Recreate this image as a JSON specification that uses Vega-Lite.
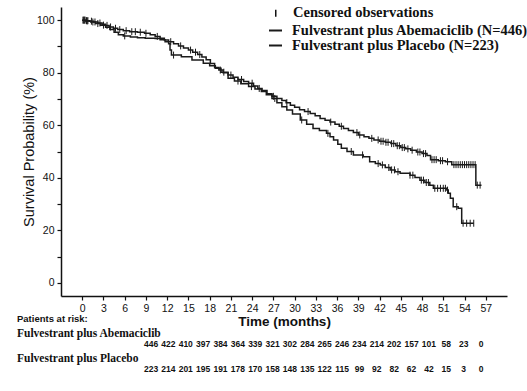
{
  "$schema": "https://vega.github.io/schema/vega-lite/v6.json",
  "width": 446,
  "height": 289,
  "autosize": {"type": "none"},
  "padding": {"left": 61, "top": 7, "right": 20, "bottom": 95},
  "background": "white",
  "config": {"view": {"stroke": null}, "font": "Liberation Sans", "axis": {"labelFlush": false}},
  "datasets": {
    "km": [
      {"arm":"Abemaciclib","month":0,"surv":100},{"arm":"Abemaciclib","month":0.5,"surv":99.8},{"arm":"Abemaciclib","month":1.0,"surv":99.6},{"arm":"Abemaciclib","month":1.6,"surv":99.3},{"arm":"Abemaciclib","month":2.2,"surv":98.9},{"arm":"Abemaciclib","month":2.8,"surv":98.4},{"arm":"Abemaciclib","month":3.3,"surv":98.0},{"arm":"Abemaciclib","month":3.8,"surv":97.4},{"arm":"Abemaciclib","month":4.4,"surv":96.9},{"arm":"Abemaciclib","month":5.0,"surv":96.4},{"arm":"Abemaciclib","month":5.8,"surv":96.0},{"arm":"Abemaciclib","month":6.7,"surv":95.6},{"arm":"Abemaciclib","month":7.8,"surv":95.4},{"arm":"Abemaciclib","month":8.8,"surv":95.0},{"arm":"Abemaciclib","month":9.6,"surv":94.4},{"arm":"Abemaciclib","month":10.3,"surv":93.8},{"arm":"Abemaciclib","month":11.0,"surv":93.1},{"arm":"Abemaciclib","month":11.6,"surv":92.4},{"arm":"Abemaciclib","month":12.2,"surv":91.8},{"arm":"Abemaciclib","month":12.9,"surv":91.0},{"arm":"Abemaciclib","month":13.6,"surv":90.2},{"arm":"Abemaciclib","month":14.3,"surv":89.4},{"arm":"Abemaciclib","month":15.0,"surv":88.6},{"arm":"Abemaciclib","month":15.6,"surv":87.8},{"arm":"Abemaciclib","month":16.3,"surv":86.9},{"arm":"Abemaciclib","month":16.9,"surv":86.0},{"arm":"Abemaciclib","month":17.5,"surv":84.9},{"arm":"Abemaciclib","month":18.1,"surv":83.5},{"arm":"Abemaciclib","month":18.7,"surv":82.0},{"arm":"Abemaciclib","month":19.3,"surv":81.0},{"arm":"Abemaciclib","month":19.9,"surv":80.0},{"arm":"Abemaciclib","month":20.6,"surv":79.1},{"arm":"Abemaciclib","month":21.3,"surv":78.3},{"arm":"Abemaciclib","month":22.0,"surv":77.4},{"arm":"Abemaciclib","month":22.8,"surv":76.6},{"arm":"Abemaciclib","month":23.5,"surv":76.0},{"arm":"Abemaciclib","month":24.2,"surv":74.9},{"arm":"Abemaciclib","month":24.8,"surv":74.0},{"arm":"Abemaciclib","month":25.4,"surv":73.2},{"arm":"Abemaciclib","month":26.1,"surv":72.0},{"arm":"Abemaciclib","month":26.8,"surv":71.0},{"arm":"Abemaciclib","month":27.5,"surv":70.2},{"arm":"Abemaciclib","month":28.2,"surv":69.4},{"arm":"Abemaciclib","month":28.8,"surv":68.6},{"arm":"Abemaciclib","month":29.4,"surv":67.6},{"arm":"Abemaciclib","month":30.0,"surv":66.8},{"arm":"Abemaciclib","month":30.7,"surv":65.9},{"arm":"Abemaciclib","month":31.4,"surv":65.2},{"arm":"Abemaciclib","month":32.2,"surv":64.5},{"arm":"Abemaciclib","month":32.9,"surv":63.6},{"arm":"Abemaciclib","month":33.6,"surv":62.6},{"arm":"Abemaciclib","month":34.3,"surv":61.9},{"arm":"Abemaciclib","month":35.0,"surv":61.2},{"arm":"Abemaciclib","month":35.7,"surv":60.4},{"arm":"Abemaciclib","month":36.3,"surv":59.6},{"arm":"Abemaciclib","month":36.9,"surv":58.8},{"arm":"Abemaciclib","month":37.6,"surv":58.0},{"arm":"Abemaciclib","month":38.3,"surv":57.2},{"arm":"Abemaciclib","month":39.0,"surv":56.3},{"arm":"Abemaciclib","month":39.8,"surv":55.6},{"arm":"Abemaciclib","month":40.5,"surv":55.0},{"arm":"Abemaciclib","month":41.2,"surv":54.4},{"arm":"Abemaciclib","month":42.0,"surv":53.9},{"arm":"Abemaciclib","month":42.8,"surv":53.5},{"arm":"Abemaciclib","month":43.6,"surv":53.0},{"arm":"Abemaciclib","month":44.3,"surv":52.2},{"arm":"Abemaciclib","month":45.0,"surv":51.5},{"arm":"Abemaciclib","month":45.7,"surv":51.0},{"arm":"Abemaciclib","month":46.4,"surv":50.5},{"arm":"Abemaciclib","month":47.2,"surv":49.8},{"arm":"Abemaciclib","month":48.0,"surv":49.2},{"arm":"Abemaciclib","month":48.7,"surv":48.5},{"arm":"Abemaciclib","month":49.2,"surv":46.9},{"arm":"Abemaciclib","month":50.3,"surv":46.5},{"arm":"Abemaciclib","month":51.3,"surv":46.1},{"arm":"Abemaciclib","month":52.2,"surv":45.0},{"arm":"Abemaciclib","month":55.6,"surv":37.2},{"arm":"Abemaciclib","month":56.4,"surv":37.2},
      {"arm":"Placebo","month":0,"surv":100},{"arm":"Placebo","month":0.5,"surv":99.7},{"arm":"Placebo","month":1.2,"surv":99.3},{"arm":"Placebo","month":1.9,"surv":98.7},{"arm":"Placebo","month":2.6,"surv":98.1},{"arm":"Placebo","month":3.3,"surv":97.3},{"arm":"Placebo","month":3.9,"surv":96.4},{"arm":"Placebo","month":4.5,"surv":95.4},{"arm":"Placebo","month":5.1,"surv":94.4},{"arm":"Placebo","month":5.8,"surv":94.0},{"arm":"Placebo","month":6.8,"surv":93.6},{"arm":"Placebo","month":7.8,"surv":93.3},{"arm":"Placebo","month":8.9,"surv":93.1},{"arm":"Placebo","month":10.3,"surv":93.0},{"arm":"Placebo","month":11.0,"surv":92.5},{"arm":"Placebo","month":11.7,"surv":91.8},{"arm":"Placebo","month":12.2,"surv":91.0},{"arm":"Placebo","month":12.4,"surv":88.6},{"arm":"Placebo","month":12.6,"surv":86.7},{"arm":"Placebo","month":14.0,"surv":86.1},{"arm":"Placebo","month":15.5,"surv":84.8},{"arm":"Placebo","month":17.1,"surv":83.6},{"arm":"Placebo","month":18.0,"surv":82.6},{"arm":"Placebo","month":18.8,"surv":81.7},{"arm":"Placebo","month":19.6,"surv":80.2},{"arm":"Placebo","month":20.6,"surv":77.9},{"arm":"Placebo","month":21.5,"surv":76.8},{"arm":"Placebo","month":22.4,"surv":75.8},{"arm":"Placebo","month":23.5,"surv":74.7},{"arm":"Placebo","month":24.4,"surv":73.8},{"arm":"Placebo","month":25.3,"surv":72.8},{"arm":"Placebo","month":26.0,"surv":71.6},{"arm":"Placebo","month":26.8,"surv":70.2},{"arm":"Placebo","month":27.5,"surv":68.6},{"arm":"Placebo","month":28.2,"surv":67.0},{"arm":"Placebo","month":28.9,"surv":65.8},{"arm":"Placebo","month":29.7,"surv":64.3},{"arm":"Placebo","month":30.8,"surv":62.0},{"arm":"Placebo","month":31.7,"surv":60.4},{"arm":"Placebo","month":32.6,"surv":58.8},{"arm":"Placebo","month":33.5,"surv":58.0},{"arm":"Placebo","month":34.5,"surv":56.9},{"arm":"Placebo","month":35.0,"surv":55.6},{"arm":"Placebo","month":35.5,"surv":54.4},{"arm":"Placebo","month":36.1,"surv":52.8},{"arm":"Placebo","month":36.6,"surv":51.2},{"arm":"Placebo","month":37.4,"surv":50.0},{"arm":"Placebo","month":38.3,"surv":48.7},{"arm":"Placebo","month":39.7,"surv":48.0},{"arm":"Placebo","month":40.6,"surv":46.1},{"arm":"Placebo","month":41.4,"surv":45.4},{"arm":"Placebo","month":42.1,"surv":44.9},{"arm":"Placebo","month":42.8,"surv":43.9},{"arm":"Placebo","month":43.5,"surv":43.0},{"arm":"Placebo","month":44.2,"surv":42.3},{"arm":"Placebo","month":44.9,"surv":41.7},{"arm":"Placebo","month":46.3,"surv":41.0},{"arm":"Placebo","month":47.0,"surv":40.1},{"arm":"Placebo","month":47.7,"surv":39.1},{"arm":"Placebo","month":48.4,"surv":38.2},{"arm":"Placebo","month":49.1,"surv":37.2},{"arm":"Placebo","month":49.6,"surv":36.0},{"arm":"Placebo","month":51.5,"surv":35.3},{"arm":"Placebo","month":51.7,"surv":34.1},{"arm":"Placebo","month":52.0,"surv":32.2},{"arm":"Placebo","month":52.4,"surv":29.0},{"arm":"Placebo","month":53.1,"surv":28.4},{"arm":"Placebo","month":53.6,"surv":22.7},{"arm":"Placebo","month":55.3,"surv":22.7}
    ],
    "cens": [
      {"arm":"Abemaciclib","month":0.2,"surv":100},{"arm":"Abemaciclib","month":0.4,"surv":100},{"arm":"Abemaciclib","month":0.6,"surv":99.8},{"arm":"Abemaciclib","month":0.8,"surv":99.8},{"arm":"Abemaciclib","month":1.3,"surv":99.6},{"arm":"Abemaciclib","month":1.8,"surv":99.3},{"arm":"Abemaciclib","month":2.5,"surv":98.9},{"arm":"Abemaciclib","month":3.5,"surv":98.0},{"arm":"Abemaciclib","month":4.0,"surv":97.4},{"arm":"Abemaciclib","month":4.7,"surv":96.9},{"arm":"Abemaciclib","month":5.3,"surv":96.4},{"arm":"Abemaciclib","month":6.2,"surv":96.0},{"arm":"Abemaciclib","month":7.0,"surv":95.6},{"arm":"Abemaciclib","month":7.5,"surv":95.6},{"arm":"Abemaciclib","month":8.2,"surv":95.4},{"arm":"Abemaciclib","month":9.0,"surv":95.0},{"arm":"Abemaciclib","month":10.6,"surv":93.8},{"arm":"Abemaciclib","month":12.5,"surv":91.8},{"arm":"Abemaciclib","month":13.9,"surv":90.2},{"arm":"Abemaciclib","month":15.3,"surv":88.6},{"arm":"Abemaciclib","month":16.0,"surv":87.8},{"arm":"Abemaciclib","month":16.6,"surv":86.9},{"arm":"Abemaciclib","month":19.5,"surv":81.0},{"arm":"Abemaciclib","month":21.0,"surv":79.1},{"arm":"Abemaciclib","month":22.5,"surv":77.4},{"arm":"Abemaciclib","month":24.0,"surv":76.0},{"arm":"Abemaciclib","month":25.0,"surv":74.0},{"arm":"Abemaciclib","month":27.0,"surv":71.0},{"arm":"Abemaciclib","month":28.9,"surv":68.6},{"arm":"Abemaciclib","month":31.9,"surv":65.2},{"arm":"Abemaciclib","month":35.1,"surv":61.2},{"arm":"Abemaciclib","month":36.6,"surv":59.6},{"arm":"Abemaciclib","month":38.8,"surv":57.2},{"arm":"Abemaciclib","month":39.2,"surv":56.3},{"arm":"Abemaciclib","month":40.9,"surv":55.0},{"arm":"Abemaciclib","month":41.8,"surv":54.4},{"arm":"Abemaciclib","month":42.2,"surv":53.9},{"arm":"Abemaciclib","month":42.5,"surv":53.9},{"arm":"Abemaciclib","month":42.9,"surv":53.5},{"arm":"Abemaciclib","month":43.2,"surv":53.5},{"arm":"Abemaciclib","month":43.7,"surv":53.0},{"arm":"Abemaciclib","month":44.0,"surv":53.0},{"arm":"Abemaciclib","month":44.5,"surv":52.2},{"arm":"Abemaciclib","month":44.8,"surv":52.2},{"arm":"Abemaciclib","month":45.2,"surv":51.5},{"arm":"Abemaciclib","month":45.5,"surv":51.5},{"arm":"Abemaciclib","month":46.0,"surv":51.0},{"arm":"Abemaciclib","month":46.6,"surv":50.5},{"arm":"Abemaciclib","month":47.4,"surv":49.8},{"arm":"Abemaciclib","month":47.7,"surv":49.8},{"arm":"Abemaciclib","month":48.2,"surv":49.2},{"arm":"Abemaciclib","month":48.5,"surv":49.2},{"arm":"Abemaciclib","month":49.4,"surv":46.9},{"arm":"Abemaciclib","month":49.7,"surv":46.9},{"arm":"Abemaciclib","month":50.0,"surv":46.9},{"arm":"Abemaciclib","month":50.6,"surv":46.5},{"arm":"Abemaciclib","month":50.9,"surv":46.5},{"arm":"Abemaciclib","month":51.6,"surv":46.1},{"arm":"Abemaciclib","month":52.5,"surv":45.0},{"arm":"Abemaciclib","month":52.8,"surv":45.0},{"arm":"Abemaciclib","month":53.1,"surv":45.0},{"arm":"Abemaciclib","month":53.4,"surv":45.0},{"arm":"Abemaciclib","month":53.7,"surv":45.0},{"arm":"Abemaciclib","month":54.0,"surv":45.0},{"arm":"Abemaciclib","month":54.3,"surv":45.0},{"arm":"Abemaciclib","month":54.6,"surv":45.0},{"arm":"Abemaciclib","month":54.9,"surv":45.0},{"arm":"Abemaciclib","month":55.2,"surv":45.0},{"arm":"Abemaciclib","month":55.5,"surv":45.0},{"arm":"Abemaciclib","month":55.8,"surv":37.2},{"arm":"Abemaciclib","month":56.2,"surv":37.2},
      {"arm":"Placebo","month":0.1,"surv":100},{"arm":"Placebo","month":0.3,"surv":100},{"arm":"Placebo","month":0.7,"surv":99.7},{"arm":"Placebo","month":1.5,"surv":99.3},{"arm":"Placebo","month":2.2,"surv":98.7},{"arm":"Placebo","month":3.0,"surv":98.1},{"arm":"Placebo","month":6.0,"surv":94.0},{"arm":"Placebo","month":12.9,"surv":86.7},{"arm":"Placebo","month":20.0,"surv":80.2},{"arm":"Placebo","month":22.0,"surv":76.8},{"arm":"Placebo","month":23.9,"surv":74.7},{"arm":"Placebo","month":27.2,"surv":70.2},{"arm":"Placebo","month":31.0,"surv":62.0},{"arm":"Placebo","month":34.7,"surv":56.9},{"arm":"Placebo","month":38.0,"surv":50.0},{"arm":"Placebo","month":39.6,"surv":48.7},{"arm":"Placebo","month":41.8,"surv":45.4},{"arm":"Placebo","month":42.4,"surv":44.9},{"arm":"Placebo","month":43.3,"surv":43.9},{"arm":"Placebo","month":43.7,"surv":43.0},{"arm":"Placebo","month":44.1,"surv":43.0},{"arm":"Placebo","month":44.6,"surv":42.3},{"arm":"Placebo","month":46.3,"surv":41.0},{"arm":"Placebo","month":46.7,"surv":41.0},{"arm":"Placebo","month":47.9,"surv":39.1},{"arm":"Placebo","month":48.2,"surv":39.1},{"arm":"Placebo","month":48.6,"surv":38.2},{"arm":"Placebo","month":48.9,"surv":38.2},{"arm":"Placebo","month":49.8,"surv":36.0},{"arm":"Placebo","month":50.2,"surv":36.0},{"arm":"Placebo","month":50.6,"surv":36.0},{"arm":"Placebo","month":51.0,"surv":36.0},{"arm":"Placebo","month":51.3,"surv":36.0},{"arm":"Placebo","month":51.6,"surv":35.3},{"arm":"Placebo","month":52.9,"surv":29.0},{"arm":"Placebo","month":53.8,"surv":22.7},{"arm":"Placebo","month":54.3,"surv":22.7},{"arm":"Placebo","month":54.8,"surv":22.7},{"arm":"Placebo","month":55.3,"surv":22.7}
    ],
    "risk": [
      {"row":"Abemaciclib at risk","month":0,"n":446},{"row":"Abemaciclib at risk","month":3,"n":422},{"row":"Abemaciclib at risk","month":6,"n":410},{"row":"Abemaciclib at risk","month":9,"n":397},{"row":"Abemaciclib at risk","month":12,"n":384},{"row":"Abemaciclib at risk","month":15,"n":364},{"row":"Abemaciclib at risk","month":18,"n":339},{"row":"Abemaciclib at risk","month":21,"n":321},{"row":"Abemaciclib at risk","month":24,"n":302},{"row":"Abemaciclib at risk","month":27,"n":284},{"row":"Abemaciclib at risk","month":30,"n":265},{"row":"Abemaciclib at risk","month":33,"n":246},{"row":"Abemaciclib at risk","month":36,"n":234},{"row":"Abemaciclib at risk","month":39,"n":214},{"row":"Abemaciclib at risk","month":42,"n":202},{"row":"Abemaciclib at risk","month":45,"n":157},{"row":"Abemaciclib at risk","month":48,"n":101},{"row":"Abemaciclib at risk","month":51,"n":58},{"row":"Abemaciclib at risk","month":54,"n":23},{"row":"Abemaciclib at risk","month":57,"n":0},
      {"row":"Placebo at risk","month":0,"n":223},{"row":"Placebo at risk","month":3,"n":214},{"row":"Placebo at risk","month":6,"n":201},{"row":"Placebo at risk","month":9,"n":195},{"row":"Placebo at risk","month":12,"n":191},{"row":"Placebo at risk","month":15,"n":178},{"row":"Placebo at risk","month":18,"n":170},{"row":"Placebo at risk","month":21,"n":158},{"row":"Placebo at risk","month":24,"n":148},{"row":"Placebo at risk","month":27,"n":135},{"row":"Placebo at risk","month":30,"n":122},{"row":"Placebo at risk","month":33,"n":115},{"row":"Placebo at risk","month":36,"n":99},{"row":"Placebo at risk","month":39,"n":92},{"row":"Placebo at risk","month":42,"n":82},{"row":"Placebo at risk","month":45,"n":62},{"row":"Placebo at risk","month":48,"n":42},{"row":"Placebo at risk","month":51,"n":15},{"row":"Placebo at risk","month":54,"n":3},{"row":"Placebo at risk","month":57,"n":0}
    ],
    "riskHeader": [{"row":"Patients at risk:"}],
    "riskArms": [{"row":"Fulvestrant plus Abemaciclib"},{"row":"Fulvestrant plus Placebo"}]
  },
  "layer": [
    {
      "layer": [
        {
          "data": {"name": "km"},
          "mark": {"type": "line", "interpolate": "step-after", "strokeWidth": 1.5},
          "encoding": {
            "x": {"field": "month", "type": "quantitative",
              "scale": {"domain": [-3, 60], "nice": false, "zero": false},
              "axis": {"values": [0,3,6,9,12,15,18,21,24,27,30,33,36,39,42,45,48,51,54,57], "tickCount": 30, "title": "Time (months)", "grid": false,
                "titleFont": "Liberation Sans", "titleFontSize": 13.5, "titleFontWeight": "bold", "titleColor": "#111",
                "labelFont": "Liberation Sans", "labelFontSize": 10.5, "labelColor": "#111", "labelPadding": 3, "titlePadding": 1,
                "labelFlush": false, "labelOverlap": false,
                "domainColor": "#111", "domainWidth": 1.5, "tickColor": "#111", "tickWidth": 1.2, "tickSize": 4}},
            "y": {"field": "surv", "type": "quantitative",
              "scale": {"domain": [-5, 105], "nice": false, "zero": false},
              "axis": {"values": [0,10,20,30,40,50,60,70,80,90,100], "tickCount": 20, "labelExpr": "datum.value % 20 == 0 ? datum.label : ''",
                "title": "Survival Probability (%)", "grid": false, "labelOverlap": false,
                "titleFont": "Liberation Sans", "titleFontSize": 14.5, "titleFontWeight": "normal", "titleColor": "#111", "titlePadding": 0,
                "labelFont": "Liberation Sans", "labelFontSize": 10.5, "labelColor": "#111", "labelPadding": 3,
                "domainColor": "#111", "domainWidth": 1.5, "tickColor": "#111", "tickWidth": 1.2, "tickSize": 4}},
            "color": {"field": "arm", "type": "nominal",
              "scale": {"domain": ["Abemaciclib", "Placebo"], "range": ["#1a1a1a", "#1a1a1a"]},
              "legend": {"orient": "none", "legendX": 207, "legendY": 16, "title": null, "padding": 0,
                "labelExpr": "datum.label == 'Abemaciclib' ? 'Fulvestrant plus Abemaciclib (N=446)' : 'Fulvestrant plus Placebo (N=223)'",
                "labelFont": "Liberation Serif", "labelFontWeight": "bold", "labelFontSize": 14.5, "labelColor": "#111",
                "labelOffset": 9, "symbolType": "stroke", "symbolSize": 169, "symbolStrokeWidth": 2, "rowPadding": 0, "labelLimit": 400}}
          }
        },
        {
          "data": {"name": "cens"},
          "mark": {"type": "point", "filled": false, "strokeWidth": 1, "color": "#1a1a1a", "opacity": 1},
          "encoding": {
            "x": {"field": "month", "type": "quantitative"},
            "y": {"field": "surv", "type": "quantitative"},
            "shape": {"datum": "Censored observations", "type": "nominal",
              "scale": {"range": ["M0,-1L0,1"]},
              "legend": {"orient": "none", "legendX": 207.5, "legendY": -1, "title": null, "padding": 0,
                "labelFont": "Liberation Serif", "labelFontWeight": "bold", "labelFontSize": 14.5, "labelColor": "#111",
                "labelOffset": 10, "symbolSize": 49, "symbolStrokeColor": "#111", "symbolStrokeWidth": 1.5, "labelLimit": 400}},
            "size": {"value": 49}
          }
        }
      ]
    },
    {
      "layer": [
        {
          "data": {"name": "risk"},
          "mark": {"type": "text", "font": "Liberation Sans", "fontWeight": "bold", "fontSize": 8.5, "color": "#111", "align": "center", "baseline": "middle"},
          "encoding": {
            "x": {"field": "month", "type": "quantitative", "scale": {"domain": [-15.55, 61.49], "nice": false, "zero": false}, "axis": null},
            "y": {"field": "row", "type": "nominal", "scale": {"type": "point", "domain": ["Patients at risk:", "Fulvestrant plus Abemaciclib", "Abemaciclib at risk", "Fulvestrant plus Placebo", "Placebo at risk"], "range": [312, 362], "padding": 0}, "axis": null},
            "text": {"field": "n", "type": "quantitative"}
          }
        },
        {
          "data": {"name": "riskHeader"},
          "mark": {"type": "text", "font": "Liberation Sans", "fontWeight": "bold", "fontSize": 9.5, "color": "#111", "align": "left", "baseline": "middle"},
          "encoding": {
            "x": {"datum": -23.15, "type": "quantitative", "scale": {"domain": [-15.55, 61.49], "nice": false, "zero": false}, "axis": null},
            "y": {"field": "row", "type": "nominal", "scale": {"type": "point", "domain": ["Patients at risk:", "Fulvestrant plus Abemaciclib", "Abemaciclib at risk", "Fulvestrant plus Placebo", "Placebo at risk"], "range": [312, 362], "padding": 0}, "axis": null},
            "text": {"field": "row", "type": "nominal"}
          }
        },
        {
          "data": {"name": "riskArms"},
          "mark": {"type": "text", "font": "Liberation Serif", "fontWeight": "bold", "fontSize": 11.5, "color": "#111", "align": "left", "baseline": "middle", "dy": 2},
          "encoding": {
            "x": {"datum": -23.15, "type": "quantitative", "scale": {"domain": [-15.55, 61.49], "nice": false, "zero": false}, "axis": null},
            "y": {"field": "row", "type": "nominal", "scale": {"type": "point", "domain": ["Patients at risk:", "Fulvestrant plus Abemaciclib", "Abemaciclib at risk", "Fulvestrant plus Placebo", "Placebo at risk"], "range": [312, 362], "padding": 0}, "axis": null},
            "text": {"field": "row", "type": "nominal"}
          }
        }
      ]
    }
  ],
  "resolve": {"scale": {"x": "independent", "y": "independent"}}
}
